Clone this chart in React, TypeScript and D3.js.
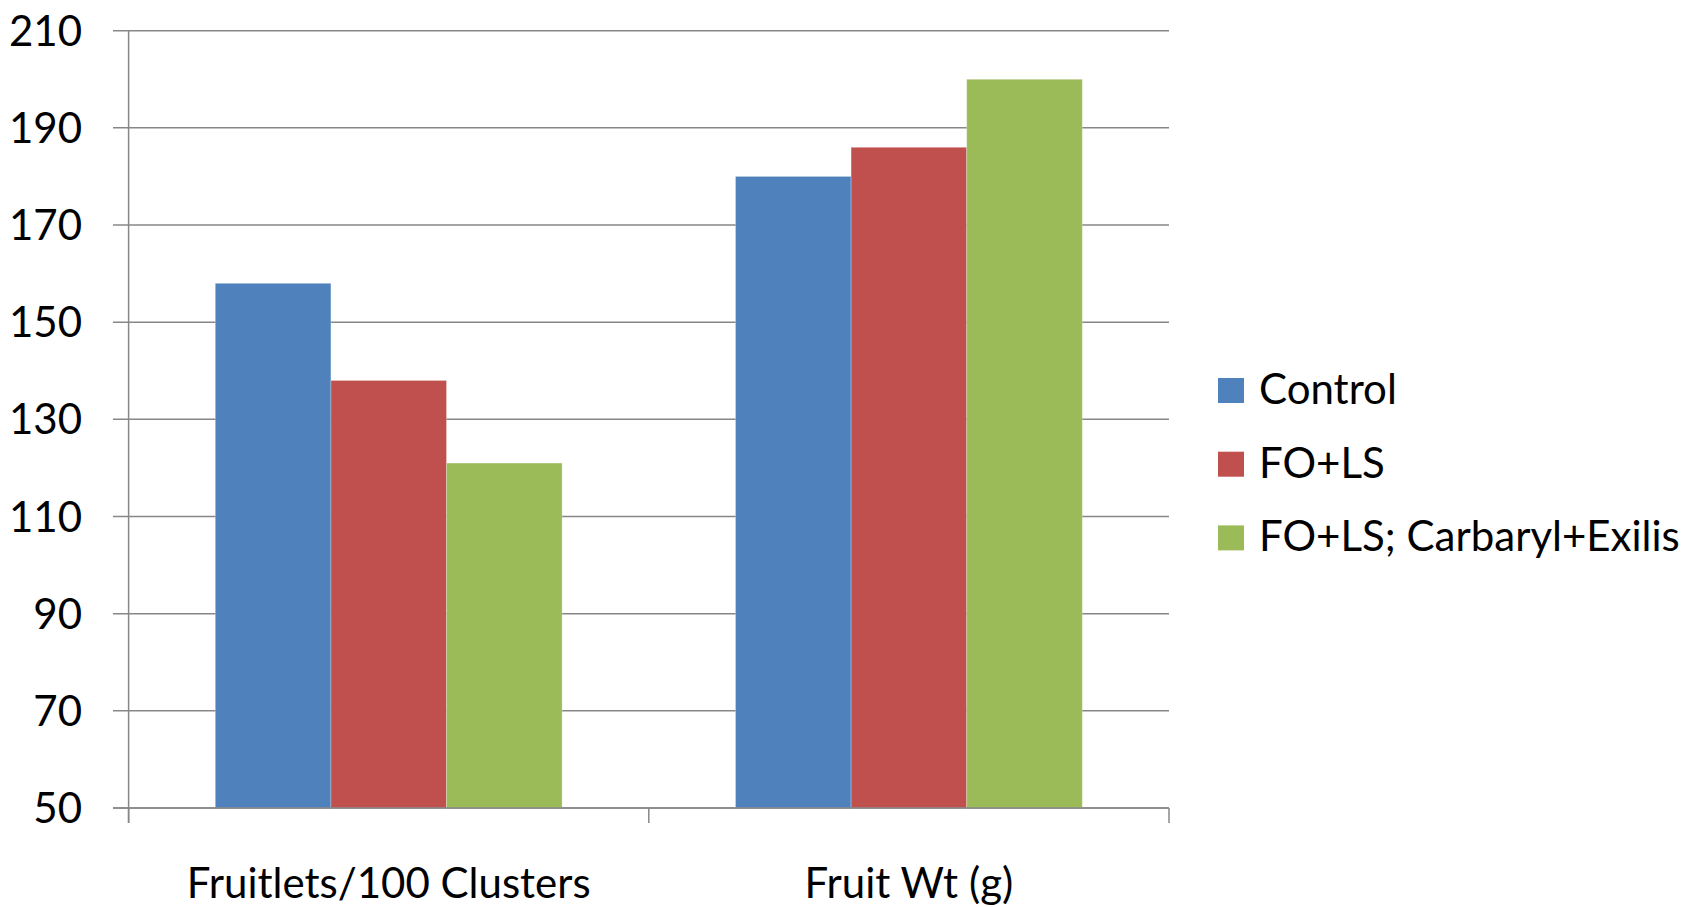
import React from 'react';
import { scaleBand, scaleLinear } from 'd3';

const categories = ['Fruitlets/100 Clusters', 'Fruit Wt (g)'];
const seriesNames = ['Control', 'FO+LS', 'FO+LS; Carbaryl+Exilis'];
const control = [158, 180];
const foLs = [138, 186];
const foLsCarbaryl = [121, 200];
const yTicks = [50, 70, 90, 110, 130, 150, 170, 190, 210];

const colors = ['#4F81BD', '#C0504D', '#9BBB59'];
const seriesValues = [control, foLs, foLsCarbaryl];

const W = 1691;
const H = 907;
const FONT = 'Lato, "Open Sans", sans-serif';

export default function App() {
  const left = 128.6;
  const right = 1169;
  const top = 30.7;
  const bottom = 808;

  const x0 = scaleBand<string>().domain(categories).range([left, right]);
  const x1 = scaleBand<string>()
    .domain(seriesNames)
    .range([0, x0.bandwidth()])
    .paddingOuter(0.75);
  const y = scaleLinear().domain([50, 210]).range([bottom, top]);

  const gridColor = '#878787';

  return (
    <div style={{ position: 'fixed', left: 0, top: 0 }}>
      <svg width={W} height={H} style={{ display: 'block', background: '#fff' }}>
        {/* gridlines + y ticks */}
        {yTicks.map(t => (
          <g key={t}>
            <line x1={113} x2={right} y1={y(t)} y2={y(t)} stroke={gridColor} strokeWidth={1.5} />
            <text
              x={82}
              y={y(t)}
              dy="0.36em"
              textAnchor="end"
              fontFamily={FONT}
              fontSize={42}
              fill="#000"
            >
              {t}
            </text>
          </g>
        ))}

        {/* bars */}
        {categories.map((c, ci) => (
          <g key={c} transform={`translate(${x0(c)},0)`}>
            {seriesNames.map((s, si) => {
              const v = seriesValues[si][ci];
              return (
                <rect
                  key={s}
                  x={x1(s)}
                  y={y(v)}
                  width={x1.bandwidth()}
                  height={bottom - y(v)}
                  fill={colors[si]}
                  stroke="rgba(255,255,255,0.25)"
                  strokeWidth={1}
                />
              );
            })}
          </g>
        ))}

        {/* axes */}
        <line x1={left} x2={left} y1={top} y2={823} stroke={gridColor} strokeWidth={1.5} />
        <line x1={113} x2={right} y1={bottom} y2={bottom} stroke={gridColor} strokeWidth={1.5} />
        {[...categories.map(c => x0(c) as number), right].map((xv, i) => (
          <line key={i} x1={xv} x2={xv} y1={bottom} y2={823} stroke={gridColor} strokeWidth={1.5} />
        ))}

        {/* category labels */}
        {categories.map(c => (
          <text
            key={c}
            x={(x0(c) as number) + x0.bandwidth() / 2}
            y={898}
            textAnchor="middle"
            fontFamily={FONT}
            fontSize={42}
            fill="#000"
          >
            {c}
          </text>
        ))}

        {/* legend */}
        {seriesNames.map((s, i) => (
          <g key={s} transform={`translate(1218,${378 + i * 73.7})`}>
            <rect width={26} height={25} fill={colors[i]} />
            <text x={41} y={26} fontFamily={FONT} fontSize={42} fill="#000">
              {s}
            </text>
          </g>
        ))}
      </svg>
    </div>
  );
}
